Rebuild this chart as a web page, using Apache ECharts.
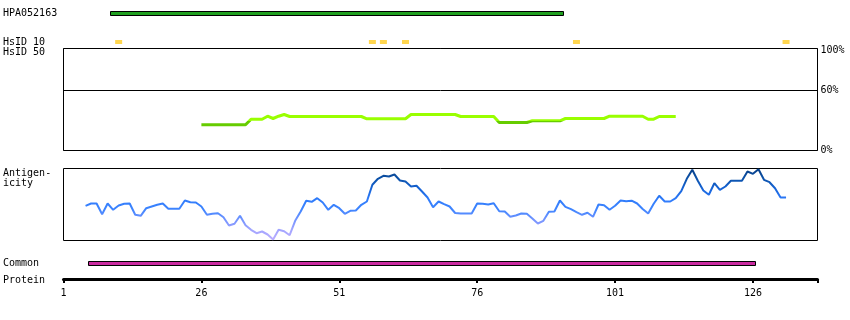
<!DOCTYPE html>
<html>
<head>
<meta charset="utf-8">
<script src="https://cdn.jsdelivr.net/npm/echarts@6/dist/echarts.min.js"></script>
<style>
html,body{margin:0;padding:0;background:#fff;}
#chart{width:850px;height:320px;}
</style>
</head>
<body>
<div id="chart"></div>
<script>
// ---- data ----
const proteinMax = 137.7;
const tickLabels = [1, 26, 51, 76, 101, 126];
const hpaRange = [9.35, 91.5];          // antigen HPA052163 (residues)
const commonRange = [5.4, 126.4];       // common region (residues)
const hsid10Positions = [11, 57, 59, 63, 94, 132];
const identityStart = 26;
const identityValues = [
  25.7, 25.7, 25.7, 25.7, 25.7, 25.7, 25.7, 25.7, 25.7,
  31.3, 31.3, 31.3, 34.3, 32, 34.3, 36, 34,
  34, 34, 34, 34, 34, 34, 34, 34, 34, 34, 34, 34, 34,
  31.7, 31.7, 31.7, 31.7, 31.7, 31.7, 31.7, 31.7,
  36, 36, 36, 36, 36, 36, 36, 36, 36,
  34, 34, 34, 34, 34, 34, 34,
  28, 28, 28, 28, 28, 28,
  29.7, 29.7, 29.7, 29.7, 29.7, 29.7,
  32, 32, 32, 32, 32, 32, 32, 32,
  34.3, 34.3, 34.3, 34.3, 34.3, 34.3, 34.3,
  31.3, 31.3,
  34, 34, 34, 34
];
const antigenStart = 5;
const antigenValues = [
  34.7, 37, 37, 26.3, 37, 30.7, 35, 36.7, 37, 25.7,
  24.7, 32.3, 34, 35.7, 37, 31.7, 31.7, 31.7, 40, 38.3,
  38, 34, 25.7, 26.7, 27.3, 23.3, 15, 16.7, 24.7, 15.3,
  10.7, 7.3, 9, 6, 1, 10.7, 9.3, 5.3, 19.7, 29,
  39.7, 38.7, 42.3, 38, 30.7, 35.7, 32.3, 26.7, 29.7, 30,
  35.7, 39, 55.7, 61.7, 64.7, 64, 66, 60, 59, 54,
  54.7, 49, 43, 33.3, 39, 36.3, 34, 27.5, 27, 27,
  27, 37, 36.7, 36, 37.3, 29.3, 29, 23.7, 25, 27,
  26.7, 22, 17, 19.7, 28.7, 29, 40, 33.7, 31.3, 28.3,
  25.7, 27.7, 23.7, 36, 35.3, 30.7, 34.7, 40, 39.3, 39.8,
  37, 31.5, 27, 36.7, 44.7, 39, 39, 42.3, 49.3, 61.7,
  70.7, 59.7, 50, 45.7, 57.3, 50.7, 54, 59.7, 59.7, 59.7,
  69, 66.7, 71.3, 60.7, 58.3, 52.3, 43, 43
];
const identityTicks = [0, 60, 100];

// ---- build ----
const FONT = 'DejaVu Sans Mono';
const identityData = identityValues.map((v, i) => [identityStart + i, v]);
const antigenData = antigenValues.map((v, i) => [antigenStart + i, v]);

function barRender(color) {
  return function (params, api) {
    const s = api.coord([api.value(0), 0.5]);
    const e = api.coord([api.value(1), 0.5]);
    const x0 = Math.round(s[0]) + 0.5;
    const x1 = Math.round(e[0]) + 0.5;
    const y0 = Math.round(s[1] - 2) + 0.5;
    return {
      type: 'rect',
      shape: { x: x0, y: y0, width: x1 - x0, height: 4 },
      style: { fill: color, stroke: '#000', lineWidth: 1 }
    };
  };
}

const L = 63.5, W = 754;
const grids = [
  { left: L, width: W, top: 0, height: 25 },          // HPA bar
  { left: L, width: W, top: 30, height: 24 },         // HsID 10
  { left: L, width: W, top: 48.5, height: 102, show: true, borderColor: '#000', borderWidth: 1 }, // identity
  { left: L, width: W, top: 168.5, height: 72, show: true, borderColor: '#000', borderWidth: 1 }, // antigenicity
  { left: L, width: W, top: 250, height: 25 },        // common
  { left: L, width: W, top: 270, height: 9 }          // protein axis
];

const hiddenX = (i) => ({ type: 'value', gridIndex: i, min: 1, max: proteinMax, show: false });
const xAxes = [0, 1, 2, 3, 4].map(hiddenX);
xAxes.push({
  type: 'value', gridIndex: 5, min: 1, max: proteinMax, position: 'bottom',
  axisLine: { show: true, lineStyle: { color: '#000', width: 3 } },
  axisTick: { show: true, customValues: tickLabels.concat([proteinMax]), length: 4, lineStyle: { color: '#000', width: 2 } },
  axisLabel: { show: true, customValues: tickLabels, margin: 9, color: '#000', fontSize: 10, fontFamily: FONT },
  splitLine: { show: false }
});

const yAxes = [
  { type: 'value', gridIndex: 0, min: 0, max: 1, show: false },
  { type: 'value', gridIndex: 1, min: 0, max: 1, show: false },
  { type: 'value', gridIndex: 2, min: 0, max: 102, interval: 60, position: 'right',
    axisLine: { show: false }, axisTick: { show: false },
    axisLabel: { show: true, customValues: identityTicks, formatter: '{value}%', margin: 3, color: '#000', fontSize: 10, fontFamily: FONT },
    splitLine: { show: true, lineStyle: { color: '#000', width: 1 } } },
  { type: 'value', gridIndex: 3, min: 0, max: 72, show: false },
  { type: 'value', gridIndex: 4, min: 0, max: 1, show: false },
  { type: 'value', gridIndex: 5, min: 0, max: 1, show: false }
];

const ts = { fontSize: 10, fontWeight: 'normal', fontFamily: FONT, color: '#000', lineHeight: 10 };
const titles = [
  { text: 'HPA052163', top: 8 },
  { text: 'HsID 10', top: 37.7 },
  { text: 'HsID 50', top: 47.7 },
  { text: 'Antigen-\nicity', top: 168 },
  { text: 'Common', top: 258 },
  { text: 'Protein', top: 275 }
].map(t => Object.assign({ left: 3, padding: 0, textStyle: ts }, t));

const option = {
  animation: false,
  backgroundColor: '#fff',
  title: titles,
  grid: grids,
  xAxis: xAxes,
  yAxis: yAxes,
  visualMap: [
    { type: 'piecewise', show: false, seriesIndex: 2, dimension: 1,
      pieces: [{ gte: 0, lt: 30, color: '#66cc00' }, { gte: 30, lte: 102, color: '#99ff00' }] },
    { type: 'continuous', show: false, seriesIndex: 3, dimension: 1, min: 0, max: 72,
      inRange: { color: ['#bcaeff', '#a3a5ff', '#7494ff', '#3f85ff', '#2e7bfb', '#1764d8', '#0c52aa', '#083f86'] } }
  ],
  series: [
    { type: 'custom', xAxisIndex: 0, yAxisIndex: 0, renderItem: barRender('#20a020'),
      encode: { x: [0, 1] }, data: [hpaRange], silent: true },
    { type: 'scatter', xAxisIndex: 1, yAxisIndex: 1, symbol: 'rect', symbolSize: [7, 4],
      itemStyle: { color: '#ffcc22' }, data: hsid10Positions.map(p => [p, 0.5]), silent: true },
    { type: 'line', xAxisIndex: 2, yAxisIndex: 2, data: identityData, showSymbol: false,
      lineStyle: { width: 3 }, silent: true },
    { type: 'line', xAxisIndex: 3, yAxisIndex: 3, data: antigenData, showSymbol: false,
      lineStyle: { width: 2 }, silent: true },
    { type: 'custom', xAxisIndex: 4, yAxisIndex: 4, renderItem: barRender('#c92aa0'),
      encode: { x: [0, 1] }, data: [commonRange], silent: true }
  ]
};

const chart = echarts.init(document.getElementById('chart'), null, { renderer: 'canvas' });
chart.setOption(option);
</script>
</body>
</html>
